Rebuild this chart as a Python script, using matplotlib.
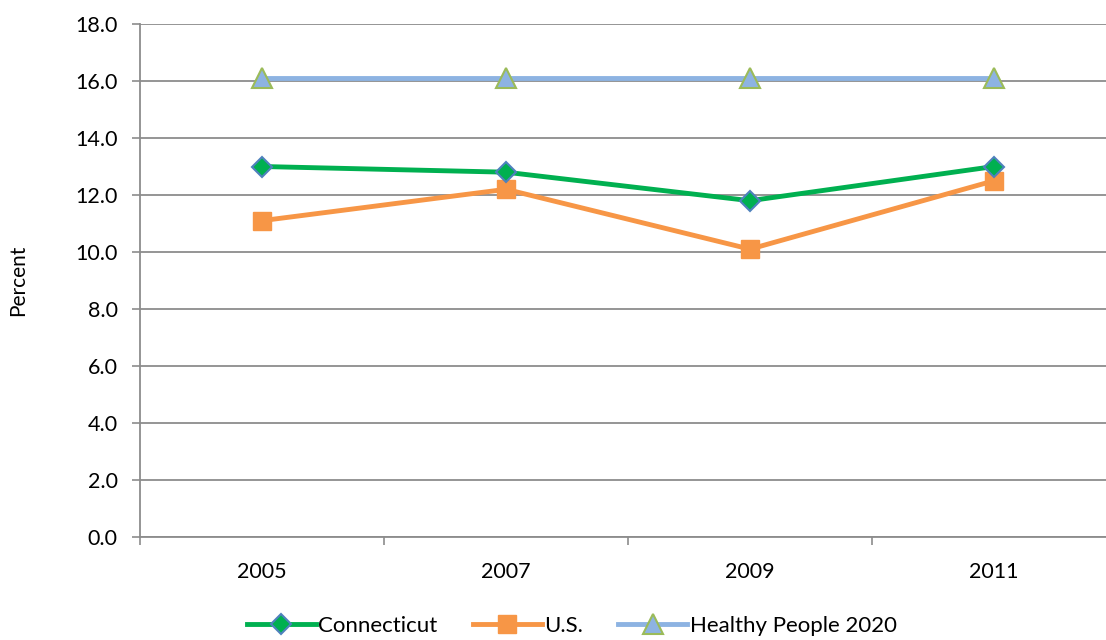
import matplotlib
matplotlib.use("Agg")
import matplotlib.pyplot as plt
import numpy as np

years = ["2005", "2007", "2009", "2011"]
connecticut = [13.0, 12.8, 11.8, 13.0]
us = [11.1, 12.2, 10.1, 12.5]
healthy_people = [16.1, 16.1, 16.1, 16.1]
y_ticks = [0, 2, 4, 6, 8, 10, 12, 14, 16, 18]

plt.rcParams['font.family'] = ['Lato', 'DejaVu Sans']

fig = plt.figure(figsize=(11.06, 6.4), dpi=100)
ax = fig.add_axes([140 / 1106, 103 / 640, 976 / 1106, 513 / 640])

x = np.arange(len(years))
grid_color = '#8c8c8c'

ax.plot(x, healthy_people, color='#8db3e2', lw=3.5, marker='^', ms=14,
        mfc='#8db3e2', mec='#9bbb59', mew=1.5, label='Healthy People 2020', zorder=3)
ax.plot(x, us, color='#f79646', lw=3.5, marker='s', ms=13,
        mfc='#f79646', mec='#f79646', label='U.S.', zorder=4)
ax.plot(x, connecticut, color='#00b050', lw=3.5, marker='D', ms=10,
        mfc='#00b050', mec='#4f81bd', mew=1.5, label='Connecticut', zorder=5)

ax.set_xlim(-0.5, len(years) - 0.5)
ax.set_ylim(0, 18)
ax.set_yticks(y_ticks)
ax.set_yticklabels([f"{v:.1f}" for v in y_ticks], fontsize=15.5)
ax.set_xticks(x)
ax.set_xticklabels(years, fontsize=15.5)
ax.tick_params(axis='x', length=0, pad=18)
ax.set_xticks(np.arange(len(years) + 1) - 0.5, minor=True)
ax.tick_params(axis='x', which='minor', length=6, color=grid_color, width=1.2)
ax.tick_params(axis='y', length=6, color=grid_color, width=1.2, pad=10)

ax.yaxis.grid(True, color=grid_color, lw=1.3)
ax.set_axisbelow(True)
for s in ['top', 'right']:
    ax.spines[s].set_visible(False)
for s in ['left', 'bottom']:
    ax.spines[s].set_color(grid_color)
    ax.spines[s].set_linewidth(1.3)

ax.set_ylabel("Percent", fontsize=15, labelpad=34)

handles, labels = ax.get_legend_handles_labels()
order = [2, 1, 0]
fig.legend([handles[i] for i in order], [labels[i] for i in order],
           loc='lower center', bbox_to_anchor=(0.517, -0.025), ncol=3,
           frameon=False, fontsize=16, handlelength=3.1, handletextpad=0.1,
           columnspacing=1.6)

fig.savefig("out.png", dpi=100)
